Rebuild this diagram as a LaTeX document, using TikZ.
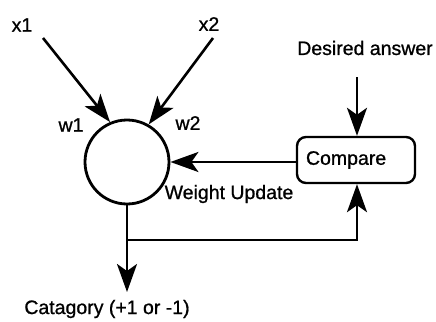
\documentclass[tikz,border=0pt]{standalone}
\usepackage{fontspec}
\setmainfont{Liberation Sans}[FakeBold=0.9]
\usetikzlibrary{arrows.meta}
\begin{document}
\begin{tikzpicture}[x=1pt,y=-1pt,
  every node/.style={font=\fontsize{19.5}{23}\selectfont, inner sep=0pt},
  wire/.style={line width=2.6pt},
  arrow/.style={wire, -{Stealth[length=28pt,width=20pt,inset=7pt]}},
  neuron/.style={circle, draw, line width=2.8pt, minimum size=84pt},
  cmpbox/.style={draw, line width=2.4pt, rounded corners=9pt,
                 minimum width=118pt, minimum height=46pt}]
\useasboundingbox (0,0) rectangle (436,321);

% labels
\node (x1) at (22,25) {x1};
\node (x2) at (209,24) {x2};
\node (w1) at (71,125) {w1};
\node (w2) at (188,123) {w2};
\node (des) at (365,48) {Desired answer};
\node (wu) at (229,194) {Weight Update};
\node (cat) at (107,309) {Catagory (+1 or -1)};

% neuron and comparator
\node[neuron] (n) at (127,162) {};
\node[cmpbox, text width=100pt, align=left] (cmp) at (356,160) {Compare};

% connector end points
\coordinate (s1) at (43,38);
\coordinate (s2) at (213,38);
\coordinate (sd) at (357,77);
\coordinate (j) at (127,240);
\coordinate (out) at (127,292);

% inputs
\draw[arrow] (s1) -- (n.113.6);
\draw[arrow] (s2) -- (n.60.4);
\draw[arrow] (sd) -- (sd |- cmp.north);

% weight update feedback
\draw[arrow] (cmp.west |- n) -- (n.east);

% output and its branch to the comparator
\draw[arrow] (n.south) -- (out);
\draw[arrow] (j) -| (sd |- cmp.south);
\end{tikzpicture}
\end{document}
